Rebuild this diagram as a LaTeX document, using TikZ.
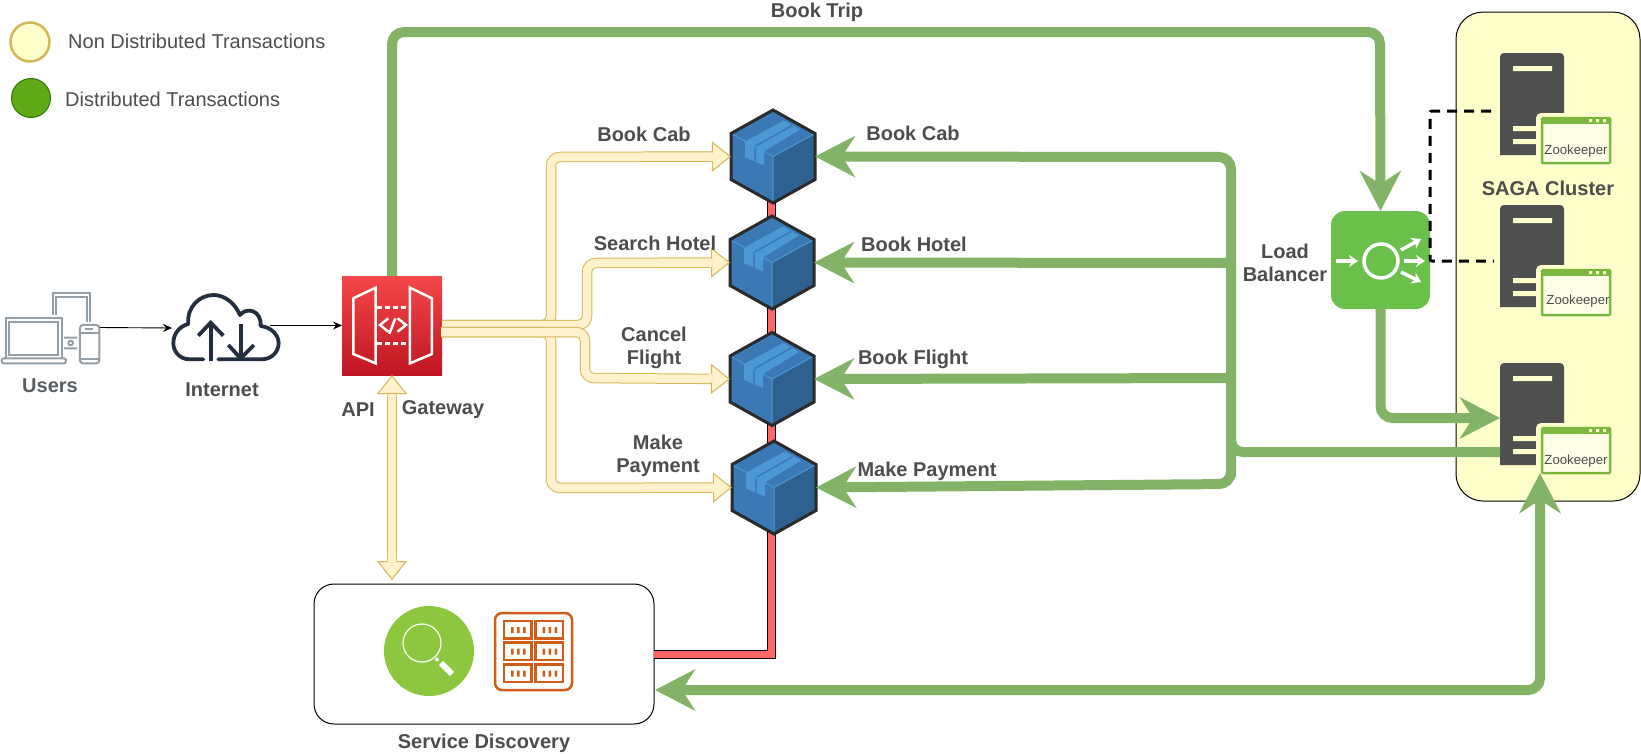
\documentclass[tikz,border=0pt]{standalone}
\usepackage{fontspec}
\setmainfont{Liberation Sans}
\usetikzlibrary{arrows.meta,calc}
\definecolor{greenflow}{HTML}{82B366}
\definecolor{yellowfill}{HTML}{FFF2CC}
\definecolor{yellowline}{HTML}{D6B656}
\definecolor{clusterfill}{HTML}{FFFFCC}
\definecolor{labelgrey}{HTML}{4D4D4D}
\definecolor{serverdark}{HTML}{505050}
\definecolor{windowgreen}{HTML}{7CB840}
\definecolor{lbgreen}{HTML}{6BBF4B}
\definecolor{cubeface}{HTML}{3B79B5}
\definecolor{cubeside}{HTML}{2E6090}
\definecolor{cubetape}{HTML}{4B98D4}
\definecolor{cubeedge}{HTML}{2A2A2A}
\definecolor{orangeicon}{HTML}{D05C17}
\definecolor{devicegrey}{HTML}{939EA7}
\definecolor{cloudnavy}{HTML}{232F3E}
\definecolor{apitop}{HTML}{F54749}
\definecolor{apibottom}{HTML}{BE1622}
\definecolor{searchgreen}{HTML}{8DC63F}
\definecolor{legendfill}{HTML}{60A917}
\definecolor{legendline}{HTML}{2D7600}
\definecolor{redfill}{HTML}{FF6666}
\tikzset{bigtip/.tip={Stealth[length=40pt,width=41pt,inset=13pt]},
 softtip/.tip={Triangle[length=19pt,width=30pt,fill=yellowfill,line width=1pt]},
 greenpath/.style={draw=greenflow,line width=10pt,rounded corners=12pt,-bigtip},
 yellowpath/.style={draw=yellowline,line width=1pt,double=yellowfill,double distance=8.5pt,rounded corners=9pt,-softtip},
 redlink/.style={draw=black,line width=1pt,double=redfill,double distance=7pt},
 thinlink/.style={draw=black,line width=.9pt,-{Stealth[length=9pt,width=8pt]}},
 lbl/.style={font=\fontsize{20}{23}\selectfont\bfseries,text=labelgrey,align=center,inner sep=0pt,yshift=-1.5pt},
 legendtext/.style={font=\fontsize{20}{23}\selectfont,text=labelgrey,inner sep=0pt},
 zktext/.style={font=\fontsize{13.2}{14}\selectfont,text=labelgrey,inner sep=0pt},
 cubebox/.style={minimum width=84pt,minimum height=93pt,inner sep=0pt,outer sep=0pt},
 lbarrow/.style={white,line width=3.5pt,-{Stealth[length=9pt,width=12pt]}},
 pics/cube/.style={code={
  \fill[cubeface] (0,-46.5)--(42,-23)--(0,0)--(0,46.5)--(-42,23)--(-42,-23)--cycle;
  \fill[cubeside] (42,-23)--(42,23)--(0,46.5)--(0,0)--cycle;
  \fill[cubetape] (-28,-15)--(11,-36)--(27,-27)--(-9,-5)--(-9,9)--(-18,5)--(-28,1)--cycle;
  \draw[cubeface,line width=1.5pt] (19,-31)--(-18,-10)--(-18,5);
  \draw[cubetape,line width=1pt] (-42,-23)--(0,0)--(42,-23) (0,0)--(0,46.5);
  \draw[cubeedge,line width=3pt,line join=miter] (0,-46.5)--(42,-23)--(42,23)--(0,46.5)--(-42,23)--(-42,-23)--cycle;
 }},
 pics/server/.style={code={
  \fill[serverdark] (0,102) {[rounded corners=4pt] --(0,0)--(64,0)}--(64,102)--cycle;
  \fill[clusterfill] (13,13) rectangle (52,18) (13,73) rectangle (40,78) (13,86) rectangle (40,91);
  \fill[clusterfill,rounded corners=5pt] (36,60) rectangle (115,112);
  \draw[windowgreen,line width=2.5pt,rounded corners=1pt,fill=clusterfill!45] (42,65) rectangle (110,110);
  \fill[windowgreen] (42,64) rectangle (110,71);
  \fill[clusterfill] (89,66) rectangle (92,69) (96,66) rectangle (99,69) (103,66) rectangle (106,69);
 }}}
\begin{document}
\begin{tikzpicture}[x=1pt,y=-1pt]
\useasboundingbox (0,0) rectangle (1641,753);
% legend
\node[circle,draw=yellowline,line width=2.5pt,fill=clusterfill,minimum size=39pt,inner sep=0pt] (legendlight) at (30,42) {};
\node[circle,draw=legendline,line width=1pt,fill=legendfill,minimum size=39pt,inner sep=0pt] (legendgreen) at (31,98) {};
\node[legendtext,anchor=west] (legendnon) at (68,41) {Non Distributed Transactions};
\node[legendtext,anchor=west] (legenddist) at (65,99) {Distributed Transactions};
% cluster and service box
\node[draw=black,line width=1pt,fill=clusterfill,rounded corners=27pt,minimum width=184pt,minimum height=489pt,inner sep=0pt,outer sep=0pt] (saga) at (1548,256.5) {};
\node[draw=black,line width=1pt,fill=white,rounded corners=20pt,minimum width=340pt,minimum height=140pt,inner sep=0pt,outer sep=0pt] (discovery) at (484,654) {};
\node[lbl] (sagalabel) at (1548,187) {SAGA Cluster};
\node[lbl] (discoverylabel) at (484,742) {Service Discovery};
% servers
\pic at (1500,53) {server};
\pic at (1500,205) {server};
\pic at (1500,363) {server};
\node[zktext] (zka) at (1576,151) {Zookeeper};
\node[zktext] (zkb) at (1578,301) {Zookeeper};
\node[zktext] (zkc) at (1576,461) {Zookeeper};
\coordinate (srvain) at (1491,111);
\coordinate (srvbin) at (1494,261);
\coordinate (srvcin) at (1500,418);
\coordinate (srvcout) at (1500,452);
\coordinate (zkctip) at (1540,473);
% red bus
\coordinate (redtop) at (771,190);
\draw[redlink] (discovery.east) -| (redtop);
% search icon and table icon
\fill[searchgreen] (429,651) circle (45);
\draw[white,line width=1.2pt] (422,643) circle (19);
\draw[white,line width=6pt] (441,663)--(452,674);
\fill[white] (437,659.5) circle (2);
\draw[orangeicon,line width=2.5pt,rounded corners=7pt] (495,613) rectangle (572,690);
\foreach \col in {504,535.5} \foreach \row in {621,642.5,664.5} {
 \draw[orangeicon,line width=2.5pt] (\col,\row) rectangle ++(27.5,17.5);
 \fill[orangeicon] (\col+7,\row+6) rectangle ++(2.5,6) (\col+13,\row+6) rectangle ++(2.5,6) (\col+19,\row+6) rectangle ++(2.5,6);
}
% users and internet
\node[inner sep=0pt,outer sep=0pt,minimum width=99pt,minimum height=71pt] (users) at (50.5,327.5) {};
\node[inner sep=0pt,outer sep=0pt,minimum width=107pt,minimum height=68pt] (cloud) at (225.5,328) {};
\node[inner sep=0pt,outer sep=0pt,minimum width=100pt,minimum height=99pt,top color=apitop,bottom color=apibottom] (apigw) at (392,325.5) {};
\begin{scope}[shift={(0,250)},x=.3333pt,y=-.3333pt]
\draw[devicegrey,line width=2pt] (17,325)--(17,205)--(185,205)--(185,325) (28,315) rectangle (175,215);
\draw[devicegrey,line width=2pt,rounded corners=2pt,fill=white] (5,325) rectangle (198,340);
\draw[devicegrey,line width=2pt] (158,195)--(158,130)--(270,130)--(270,215) (168,195)--(168,140)--(260,140)--(260,215);
\draw[devicegrey,line width=2pt,rounded corners=3pt] (240,225) rectangle (298,340);
\draw[devicegrey,line width=2pt] (240,250)--(298,250) (255,237)--(280,237) (240,328)--(298,328);
\draw[devicegrey,line width=2pt] (192,263)--(232,263) (192,295)--(232,295) (212,279) circle (7);
\draw[cloudnavy,line width=3.8pt,line cap=round,line join=round]
 (610,328)--(570,328) .. controls (535,328) and (520,300) .. (520,280) .. controls (520,250) and (540,228) .. (565,222)
 .. controls (560,170) and (600,135) .. (640,135) .. controls (675,135) and (705,160) .. (720,195)
 .. controls (740,170) and (785,180) .. (782,228) .. controls (815,232) and (836,255) .. (836,280) .. controls (836,305) and (815,328) .. (785,328)--(655,328);
\draw[cloudnavy,line width=3.8pt] (632,332)--(632,222) (722,222)--(722,322);
\draw[cloudnavy,line width=3.8pt] (595,257)--(632,218)--(670,257) (685,285)--(722,325)--(762,285);
\draw[white,line width=2.5pt] (1060,145)--(1127,113)--(1127,340)--(1060,312)--cycle (1230,113)--(1296,145)--(1296,312)--(1230,340)--cycle;
\draw[white,line width=2.5pt,dashed,dash pattern=on 5pt off 3pt] (1130,172)--(1228,172) (1130,280)--(1228,280);
\draw[white,line width=2.5pt] (1165,205)--(1140,225)--(1165,245) (1193,205)--(1218,225)--(1193,245) (1186,205)--(1168,252);
\end{scope}
\coordinate (cloudout) at (270,325.5);
\draw[thinlink] (users.east)--(cloud.west);
\draw[thinlink] (cloudout)--(apigw.west);
\node[lbl,text=devicegrey!60!black] (userslabel) at (50,384) {Users};
\node[lbl] (internetlabel) at (222,388) {Internet};
\node[lbl] (apilabel) at (358,408) {API};
\node[lbl] (gatewaylabel) at (443,408) {Gateway};
% services
\node[cubebox] (cabcube) at (773,156.5) {};
\node[cubebox] (hotelcube) at (772,262.5) {};
\node[cubebox] (flightcube) at (772,379) {};
\node[cubebox] (paycube) at (774,487.5) {};
\pic at (cabcube) {cube};
\pic at (hotelcube) {cube};
\pic at (flightcube) {cube};
\pic at (paycube) {cube};
% yellow flows
\coordinate (gwup) at (442,325);
\coordinate (gwlow) at (441,332);
\coordinate (gwdown) at (392,580);
\draw[yellowpath] (gwup)-|(551,157)--(cabcube.west);
\draw[yellowpath] (gwup)-|(587,263)--(hotelcube.west);
\draw[yellowpath] (gwlow)-|(551,488)--(paycube.west);
\draw[yellowpath] (gwlow)-|(585,378)--(flightcube.west);
\draw[yellowpath,softtip-softtip] (apigw.south)--(gwdown);
% cover the base line of each head
\fill[yellowfill] (710,152.7) rectangle (713,161.3) (709,258.7) rectangle (712,267.3) (709,373.7) rectangle (712,382.3) (712,483.7) rectangle (715,492.3);
\fill[yellowfill] (387.7,394) rectangle (396.3,397) (387.7,559) rectangle (396.3,562);
\node[lbl] (bookcabin) at (644,133) {Book Cab};
\node[lbl] (searchhotel) at (655,242) {Search Hotel};
\node[lbl] (cancelflight) at (654,346) {Cancel\\Flight};
\node[lbl] (makepayin) at (658,454) {Make\\Payment};
% load balancer
\node[fill=lbgreen,rounded corners=14pt,minimum width=99pt,minimum height=98pt,inner sep=0pt,outer sep=0pt] (lb) at (1380.5,260) {};
\draw[white,line width=3.5pt] (1381,261) circle (17);
\draw[lbarrow] (1336,261)--(1358,261);
\draw[lbarrow] (1401,250)--(1421,239);
\draw[lbarrow] (1404,261)--(1425,261);
\draw[lbarrow] (1401,272)--(1421,282);
\node[lbl] (lblabel) at (1285,261) {Load\\Balancer};
\draw[black,line width=3pt,dashed,dash pattern=on 10pt off 7pt,rounded corners=2pt] (srvain)-|(1430,261)--(srvbin);
% green flows
\coordinate (bustop) at (1231,157);
\coordinate (busmid) at (1231,263);
\coordinate (buslow) at (1231,378);
\coordinate (busbottom) at (1231,484);
\coordinate (discin) at (655,690);
\draw[greenpath] (apigw.north)|-(1380,32)--(lb.north);
\draw[greenpath] (lb.south)|-(srvcin);
\draw[greenpath] (srvcout)-|(bustop)--(cabcube.east);
\draw[greenpath] (busmid)--(hotelcube.east);
\draw[greenpath] (buslow)--(flightcube.east);
\draw[greenpath] (busmid)|-(busbottom)--(paycube.east);
\draw[greenpath,bigtip-bigtip] (discin)-|(zkctip);
\node[lbl] (booktrip) at (817,11) {Book Trip};
\node[lbl] (bookcabout) at (913,132) {Book Cab};
\node[lbl] (bookhotel) at (914,243) {Book Hotel};
\node[lbl] (bookflight) at (913,358) {Book Flight};
\node[lbl] (makepayout) at (927,470) {Make Payment};
\end{tikzpicture}
\end{document}
